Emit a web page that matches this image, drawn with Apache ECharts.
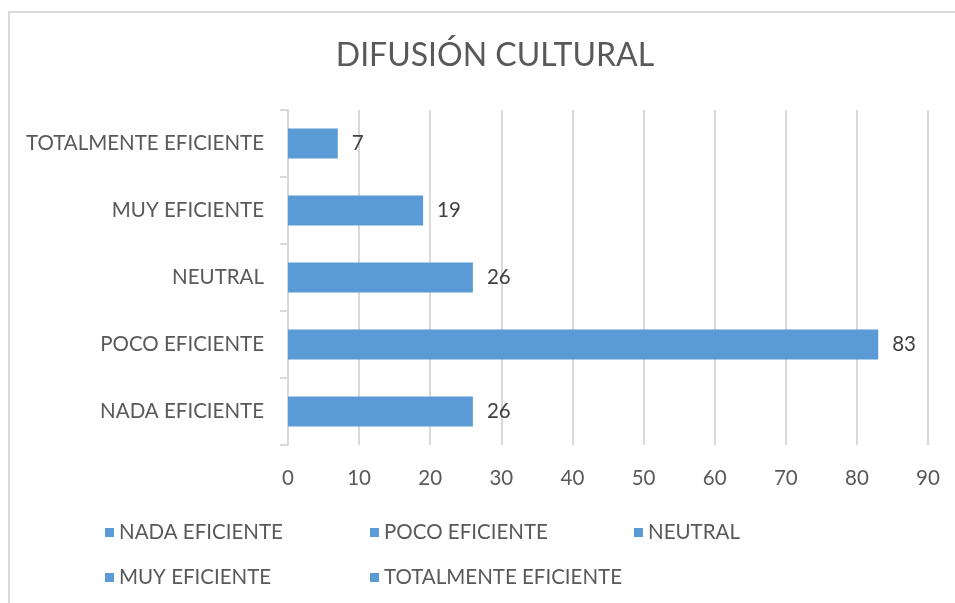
<!DOCTYPE html>
<html>
<head>
<meta charset="utf-8">
<script src="https://cdn.jsdelivr.net/npm/echarts@6/dist/echarts.min.js"></script>
<style>
  html, body { margin: 0; padding: 0; background: #fff; }
  #chart { width: 955px; height: 603px; }
</style>
</head>
<body>
<div id="chart"></div>
<script>
// Categories listed bottom to top, as the y axis draws them
const categories = ['NADA EFICIENTE', 'POCO EFICIENTE', 'NEUTRAL', 'MUY EFICIENTE', 'TOTALMENTE EFICIENTE'];
const values = [26, 83, 26, 19, 7];
const xTicks = { min: 0, max: 90, interval: 10 };
const titleText = 'DIFUSIÓN CULTURAL';

const FONT = 'Lato';
const BLUE = '#5b9bd5';
const TEXT = '#595959';
const SIZE = 20.5;

// One series per category so each gets its own legend entry; stacking keeps bars centred
const series = categories.map((name, i) => ({
  name: name,
  type: 'bar',
  stack: 'all',
  barWidth: 30,
  itemStyle: { color: BLUE },
  label: {
    show: true,
    position: 'right',
    distance: 14,
    color: '#404040',
    fontFamily: FONT,
    fontSize: SIZE,
    formatter: '{c}'
  },
  data: categories.map((c, j) => (j === i ? values[i] : '-'))
}));

// Legend laid out as a two-row grid
const legendSlots = [
  { left: 100, top: 517 },
  { left: 365, top: 517 },
  { left: 629, top: 517 },
  { left: 100, top: 562 },
  { left: 365, top: 562 }
];
const legends = categories.map((name, i) => ({
  data: [name],
  left: legendSlots[i].left,
  top: legendSlots[i].top,
  icon: 'rect',
  itemWidth: 9,
  itemHeight: 9,
  selectedMode: false,
  textStyle: { color: TEXT, fontFamily: FONT, fontSize: SIZE }
}));

const chart = echarts.init(document.getElementById('chart'), null, { renderer: 'canvas' });
chart.setOption({
  animation: false,
  backgroundColor: '#fff',
  textStyle: { fontFamily: FONT },
  graphic: [{
    type: 'rect',
    shape: { x: 9, y: 12, width: 1000, height: 700 },
    style: { fill: 'none', stroke: '#d9d9d9', lineWidth: 2 },
    silent: true,
    z: -1
  }],
  title: {
    text: titleText,
    left: 490,
    top: 35,
    textAlign: 'center',
    textStyle: { color: TEXT, fontFamily: FONT, fontSize: 32, fontWeight: 'normal' }
  },
  legend: legends,
  grid: { left: 288, right: 27, top: 110, bottom: 158, containLabel: false },
  xAxis: {
    type: 'value',
    min: xTicks.min,
    max: xTicks.max,
    interval: xTicks.interval,
    axisLine: { show: false },
    axisTick: { show: false },
    axisLabel: { color: TEXT, fontFamily: FONT, fontSize: SIZE, margin: 23 },
    splitLine: { lineStyle: { color: '#d9d9d9', width: 2 } }
  },
  yAxis: {
    type: 'category',
    data: categories,
    axisLine: { show: true, lineStyle: { color: '#d9d9d9', width: 2 } },
    axisTick: { show: true, length: 8, lineStyle: { color: '#d9d9d9', width: 2 } },
    axisLabel: { color: TEXT, fontFamily: FONT, fontSize: SIZE, margin: 24 }
  },
  series: series
});
</script>
</body>
</html>
